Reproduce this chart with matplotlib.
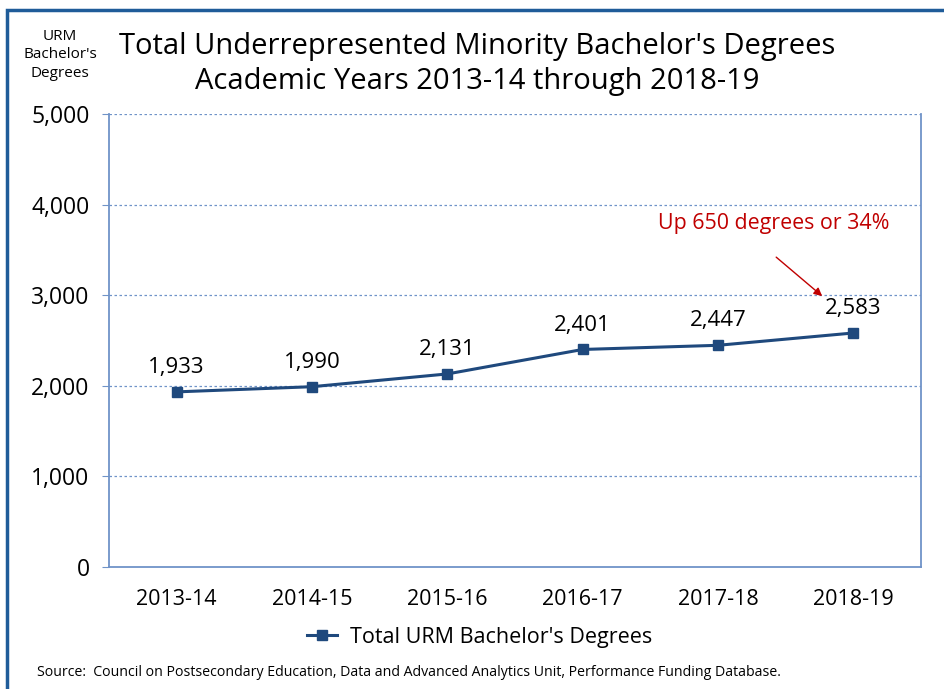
import matplotlib.pyplot as plt
from matplotlib.patches import Rectangle

plt.rcParams['font.family'] = ['Open Sans', 'DejaVu Sans']

years = ['2013-14', '2014-15', '2015-16', '2016-17', '2017-18', '2018-19']
degrees = [1933, 1990, 2131, 2401, 2447, 2583]
yticks = [0, 1000, 2000, 3000, 4000, 5000]

line_color = '#1F497D'
axis_color = '#6F93C8'

fig = plt.figure(figsize=(9.44, 6.89), dpi=100)
ax = fig.add_axes([109 / 944, 1 - 567 / 689, 812 / 944, 453 / 689])

x = list(range(len(years)))
ax.plot(x, degrees, color=line_color, lw=2.2, marker='s', ms=7,
        label="Total URM Bachelor's Degrees")

# Etiquetas de valores
for xi, v in zip(x, degrees):
    ax.annotate(f'{v:,}', (xi, v), xytext=(0, 17.5), textcoords='offset points',
                ha='center', va='center', fontsize=16)

ax.set_xlim(-0.5, len(years) - 0.5)
ax.set_ylim(0, 5000)
ax.set_xticks(x)
ax.set_xticklabels(years, fontsize=15.5)
ax.tick_params(axis='x', length=0, pad=16)
ax.set_yticks(yticks)
ax.set_yticklabels([f'{t:,}' for t in yticks], fontsize=16.5)
ax.tick_params(axis='y', length=5, color=axis_color, pad=9)

# Rejilla punteada
for t in yticks[1:]:
    ax.axhline(t, color=axis_color, lw=0.9, ls=(0, (2, 2)), zorder=0)

for s in ['left', 'bottom', 'right']:
    ax.spines[s].set_color(axis_color)
    ax.spines[s].set_linewidth(1.3)
ax.spines['top'].set_visible(False)

# Anotación
ax.annotate('', xy=(4.77, 2990), xytext=(4.43, 3420),
            arrowprops=dict(arrowstyle='-|>', color='#C00000', lw=1,
                            shrinkA=0, shrinkB=0, mutation_scale=12))
ax.text(4.41, 3786, 'Up 650 degrees or 34%', color='#C00000', fontsize=15.4,
        ha='center', va='center')

fig.text(477 / 944, 1 - 64 / 689,
         "Total Underrepresented Minority Bachelor's Degrees\n"
         "Academic Years 2013-14 through 2018-19",
         ha='center', va='center', fontsize=21, linespacing=1.3)

fig.text(60 / 944, 1 - 55 / 689, "URM\nBachelor's\nDegrees",
         ha='center', va='center', fontsize=11, linespacing=1.35)

leg = ax.legend(loc='center', bbox_to_anchor=(480 / 944, 1 - 637 / 689),
                bbox_transform=fig.transFigure, frameon=False, fontsize=15.5,
                handlelength=1.4, handletextpad=0.6)

fig.text(37 / 944, 1 - 673 / 689,
         'Source:  Council on Postsecondary Education, Data and Advanced '
         'Analytics Unit, Performance Funding Database.',
         ha='left', va='center', fontsize=10.2)

# Borde exterior
fig.patches.append(Rectangle((7 / 944, -0.05), 1.0, 1 - 10 / 689 + 0.05,
                             transform=fig.transFigure, fill=False,
                             edgecolor='#1F5C99', lw=2.5))

fig.savefig('out.png', dpi=100)
